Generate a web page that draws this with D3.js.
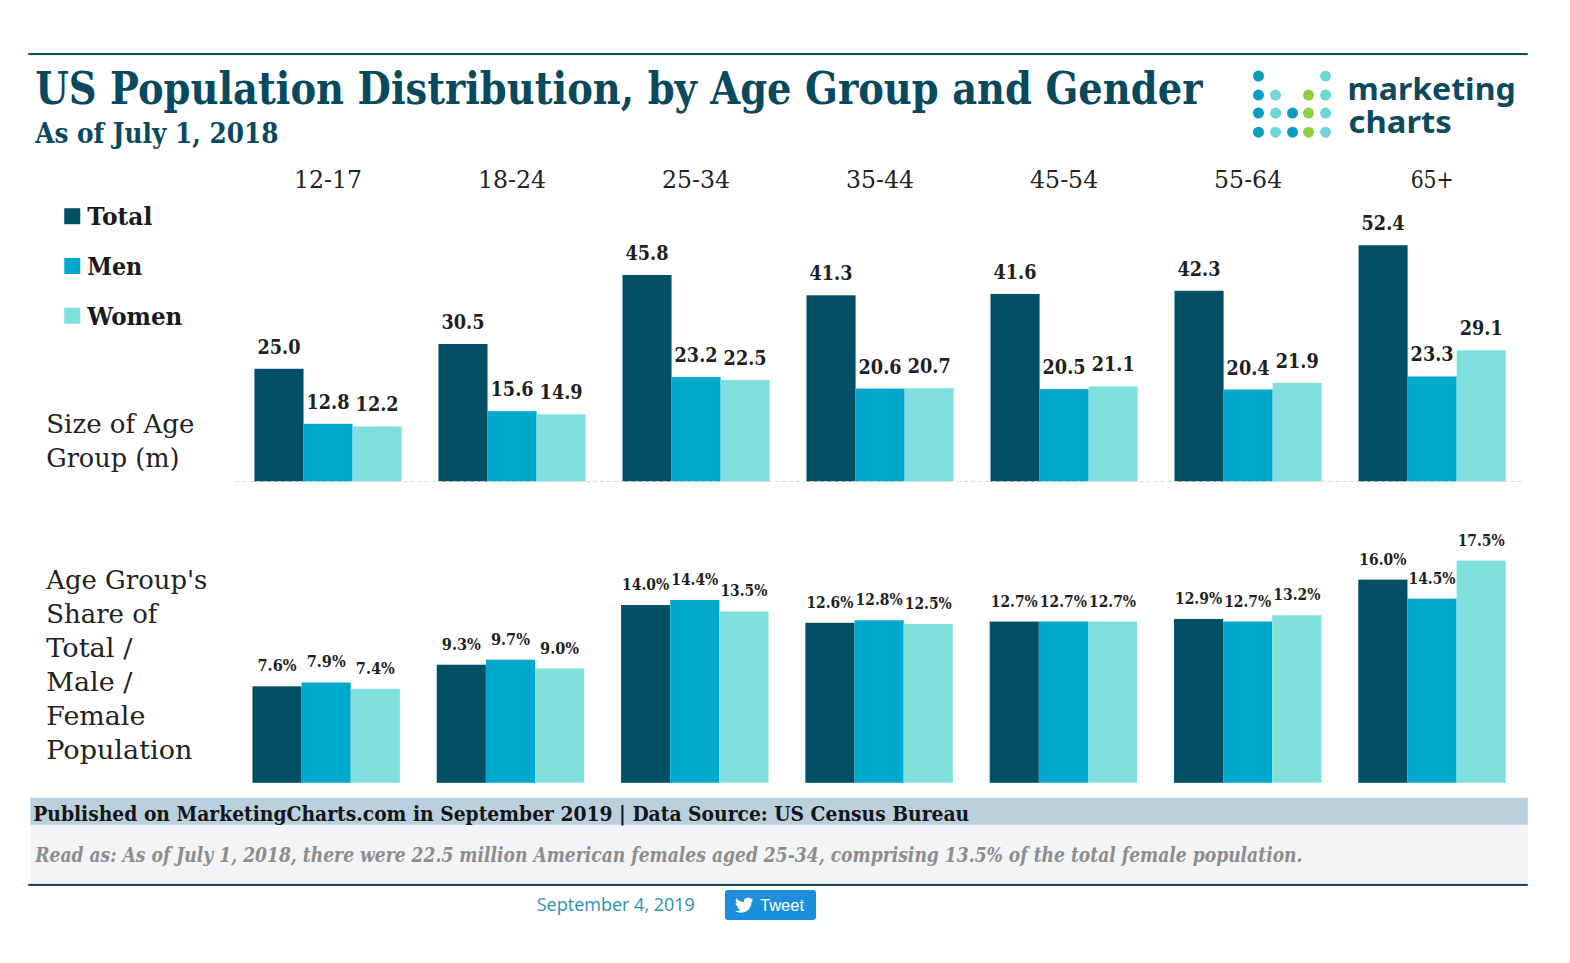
<!DOCTYPE html>
<html><head><meta charset="utf-8">
<script src="https://cdnjs.cloudflare.com/ajax/libs/d3/7.8.5/d3.min.js"></script>
<style>html,body{margin:0;background:#fff}svg{display:block}</style></head>
<body><svg id="c" width="1570" height="963" viewBox="0 0 1568 962"></svg>
<script>
const categories=["12-17","18-24","25-34","35-44","45-54","55-64","65+"];
const seriesNames=["Total","Men","Women"];
const sizeTotal=[25.0,30.5,45.8,41.3,41.6,42.3,52.4];
const sizeMen=[12.8,15.6,23.2,20.6,20.5,20.4,23.3];
const sizeWomen=[12.2,14.9,22.5,20.7,21.1,21.9,29.1];
const shareTotal=[7.6,9.3,14.0,12.6,12.7,12.9,16.0];
const shareMen=[7.9,9.7,14.4,12.8,12.7,12.7,14.5];
const shareWomen=[7.4,9.0,13.5,12.5,12.7,13.2,17.5];
const colors=["#034f66","#00a9cb","#7fe0dc"];
const svg=d3.select("#c");
const SLAB="'DejaVu Serif',serif", BODY="'Noto Sans',sans-serif";
function T(s,x,y,size,o={}){
  const t=svg.append("text").attr("x",x).attr("y",y).text(s)
   .attr("font-family",o.family||SLAB).attr("font-size",size)
   .attr("font-weight",o.weight||"normal").attr("fill",o.fill||"#222")
   .attr("text-anchor",o.anchor||"start");
  if(o.style)t.attr("font-style",o.style);
  if(o.w)t.attr("textLength",o.w).attr("lengthAdjust","spacingAndGlyphs");
  return t;
}
// frame
svg.append("rect").attr("x",28).attr("y",53).attr("width",1498).attr("height",2).attr("fill","#0b4a5c");
svg.append("rect").attr("x",30).attr("y",797).attr("width",1496).attr("height",27).attr("fill","#b9d0de");
svg.append("rect").attr("x",30).attr("y",824).attr("width",1496).attr("height",59).attr("fill","#f3f4f6");
svg.append("rect").attr("x",28).attr("y",883).attr("width",1498).attr("height",2).attr("fill","#0b4a5c");
// title
T("US Population Distribution, by Age Group and Gender",35,104,44,{weight:"bold",fill:"#08495e",w:1166});
T("As of July 1, 2018",35,143,27,{weight:"bold",fill:"#08495e",w:243});
// logo
const dotCols=[1257,1274,1291,1307,1324], dotRows=[76,95,113,132];
const logoDots=[[0,0,"#0a9dbf"],[0,1,"#0a9dbf"],[0,2,"#0a9dbf"],[0,3,"#0a9dbf"],
 [1,1,"#6fd6d6"],[1,2,"#6fd6d6"],[1,3,"#6fd6d6"],[2,2,"#0a9dbf"],[2,3,"#0a9dbf"],
 [3,1,"#8fd13f"],[3,2,"#8fd13f"],[3,3,"#8fd13f"],
 [4,0,"#6fd6d6"],[4,1,"#6fd6d6"],[4,2,"#6fd6d6"],[4,3,"#6fd6d6"]];
svg.append("g").selectAll("circle").data(logoDots).join("circle")
 .attr("cx",d=>dotCols[d[0]]).attr("cy",d=>dotRows[d[1]]).attr("r",5.5).attr("fill",d=>d[2]);
T("marketing",1346,100,30,{family:BODY,weight:"bold",fill:"#0d4a5e",w:168});
T("charts",1347,133,30,{family:BODY,weight:"bold",fill:"#0d4a5e",w:103});
// scales
const xTop=d3.scaleBand().domain(categories).range([254,1504]).paddingInner(0.2);
const xBot=d3.scaleBand().domain(categories).range([252,1504]).paddingInner(0.2);
const yTop=d3.scaleLinear().domain([0,52.4]).range([481,245]);
const yBot=d3.scaleLinear().domain([0,17.5]).range([782,560]);
const fmtTop=d3.format(".1f"), fmtBot=v=>d3.format(".1f")(v)+"%";
function panel(x,y,rows,fmt,size,widthOf,gap){
  const sub=d3.scaleBand().domain(d3.range(3)).range([0,x.bandwidth()]);
  rows.forEach((vals,si)=>{
    const g=svg.append("g");
    g.selectAll("rect").data(vals).join("rect")
     .attr("x",(d,i)=>x(categories[i])+sub(si)).attr("y",d=>y(d))
     .attr("width",sub.bandwidth()).attr("height",d=>y(0)-y(d)).attr("fill",colors[si]);
    vals.forEach((d,i)=>T(fmt(d),x(categories[i])+sub(si)+sub.bandwidth()/2,y(d)-gap,size,
      {weight:"bold",anchor:"middle",fill:"#1f1f1f",w:widthOf(fmt(d))}));
  });
}
panel(xTop,yTop,[sizeTotal,sizeMen,sizeWomen],fmtTop,20,()=>43,15);
panel(xBot,yBot,[shareTotal,shareMen,shareWomen],fmtBot,16,s=>s.length>4?47:39,15);
// baseline
svg.append("line").attr("x1",235).attr("x2",1522).attr("y1",481).attr("y2",481)
 .attr("stroke","#d5dcdc").attr("stroke-dasharray","4 3");
// category labels (axis on top)
const ax=svg.append("g").attr("transform","translate(0,188)").call(d3.axisTop(xTop).tickSize(0));
ax.select(".domain").remove();
ax.selectAll("text").attr("font-family",SLAB).attr("font-size",24).attr("fill","#222")
 .attr("y",0).attr("dy",0).attr("textLength",d=>d==="65+"?43:68).attr("lengthAdjust","spacingAndGlyphs");
// legend
seriesNames.forEach((s,i)=>{
  const yy=216+i*49.7;
  svg.append("rect").attr("x",64).attr("y",yy-8).attr("width",16).attr("height",16).attr("fill",colors[i]);
  T(s,87,yy+9,25,{weight:"bold",fill:"#1a1a1a",w:[65,55,95][i]});
});
// row captions
[["Size of Age",148],["Group (m)",133]].forEach((d,i)=>T(d[0],46,433+i*34,26,{w:d[1]}));
[["Age Group's",161],["Share of",111],["Total /",86],["Male /",86],["Female",99],["Population",146]]
 .forEach((d,i)=>T(d[0],46,588+i*34,26,{w:d[1]}));
// footer
T("Published on MarketingCharts.com in September 2019 | Data Source: US Census Bureau",33,820,21,{weight:"bold",fill:"#151515",w:935});
T("Read as: As of July 1, 2018, there were 22.5 million American females aged 25-34, comprising 13.5% of the total female population.",35,861,20,{weight:"bold",style:"italic",fill:"#8d8d8d",w:1266});
T("September 4, 2019",536,910,18,{family:"'Open Sans',sans-serif",fill:"#2b8fb5",w:158});
svg.append("rect").attr("x",724).attr("y",889).attr("width",91).attr("height",30).attr("rx",3).attr("fill","#1b8fdc");
svg.append("path").attr("transform","translate(734,895) scale(0.77)").attr("fill","#fff")
 .attr("d","M23.953 4.57a10 10 0 01-2.825.775 4.958 4.958 0 002.163-2.723c-.951.555-2.005.959-3.127 1.184a4.92 4.92 0 00-8.384 4.482C7.69 8.095 4.067 6.13 1.64 3.162a4.822 4.822 0 00-.665 2.475c0 1.71.87 3.213 2.188 4.096a4.904 4.904 0 01-2.228-.616v.06a4.923 4.923 0 003.946 4.827 4.996 4.996 0 01-2.212.085 4.936 4.936 0 004.604 3.417 9.867 9.867 0 01-6.102 2.105c-.39 0-.779-.023-1.17-.067a13.995 13.995 0 007.557 2.209c9.053 0 13.998-7.496 13.998-13.985 0-.21 0-.42-.015-.63A9.935 9.935 0 0024 4.59z");
T("Tweet",759,910,17,{family:"'Liberation Sans',sans-serif",fill:"#fff",w:44});
</script></body></html>
